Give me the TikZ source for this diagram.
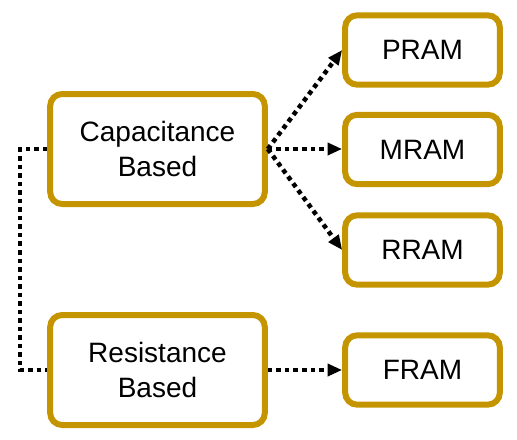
\documentclass[tikz,border=0pt]{standalone}
\usepackage{fontspec}
\setmainfont{Liberation Sans}
\usetikzlibrary{arrows.meta}
\definecolor{gold}{RGB}{196,149,0}

\begin{document}
\begin{tikzpicture}[x=0.75pt,y=0.75pt,yscale=-1,xscale=1,
  bigbox/.style={draw=gold,line width=4.5pt,rounded corners=9pt,minimum width=161pt,minimum height=82.5pt,align=center,inner sep=0pt,font=\fontsize{21}{26}\selectfont},
  smallbox/.style={draw=gold,line width=4.5pt,rounded corners=9pt,minimum width=116pt,minimum height=52pt,inner sep=0pt,font=\fontsize{21}{26}\selectfont},
  link/.style={line width=3.4pt,dash pattern=on 3.4pt off 3pt},
  linkarrow/.style={link,-{Triangle[length=11pt,width=9pt]}}]
\path (0,0) rectangle (517,439);

% Main categories
\node [bigbox] (cap) at (157.5,149) {Capacitance\\Based};
\node [bigbox] (res) at (157.5,370) {Resistance\\Based};

% Memory types
\node [smallbox] (pram) at (422.5,50) {PRAM};
\node [smallbox] (mram) at (422.5,149.5) {MRAM};
\node [smallbox] (rram) at (422.5,250) {RRAM};
\node [smallbox] (fram) at (422.5,370) {FRAM};

% Links
\draw [link] (cap.west) -- ++(-27,0) |- (res.west);
\draw [linkarrow] (cap.east) -- (pram.west);
\draw [linkarrow] (cap.east) -- (cap.east -| mram.west);
\draw [linkarrow] (cap.east) -- (rram.west);
\draw [linkarrow] (res.east) -- (res.east -| fram.west);

\end{tikzpicture}
\end{document}
